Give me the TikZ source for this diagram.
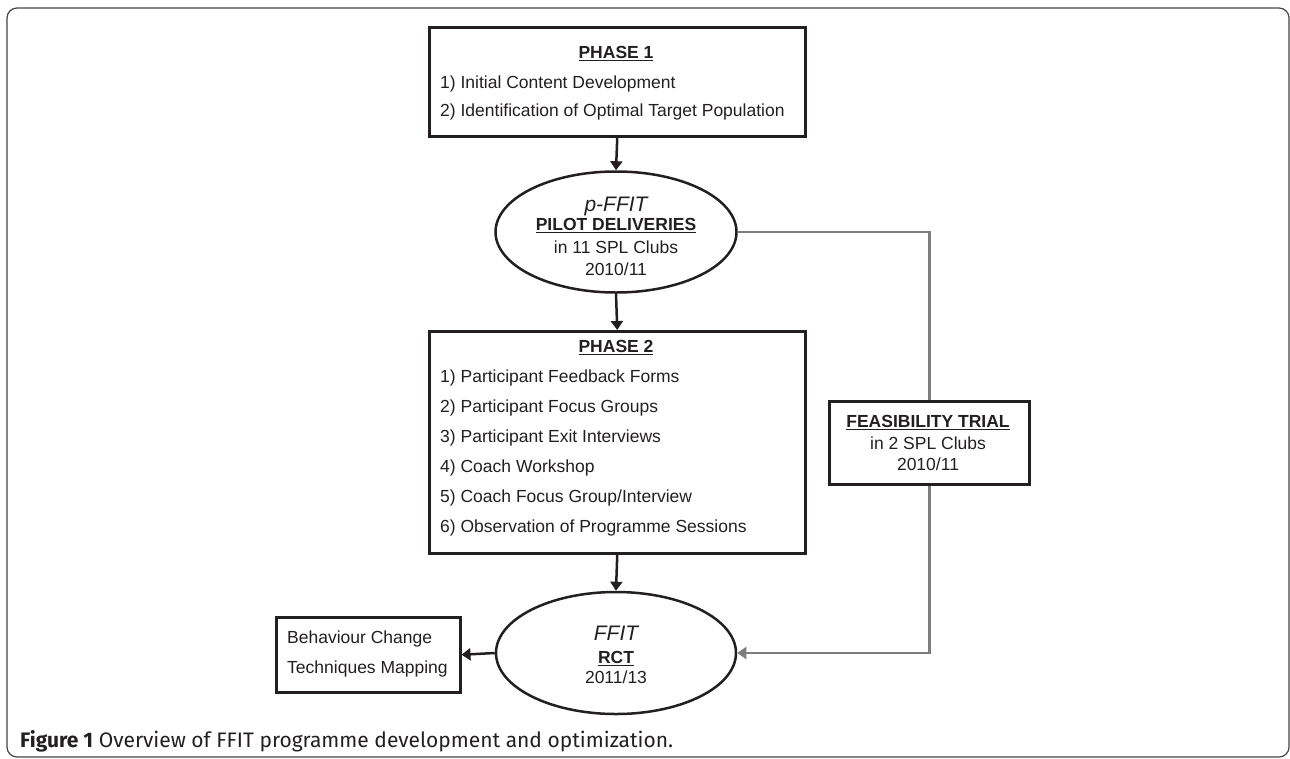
\documentclass[tikz,border=0pt]{standalone}
\usepackage{fontspec}
\setmainfont{Liberation Sans}
\newfontfamily\capfont{Fira Sans}
\usetikzlibrary{shapes.geometric,arrows.meta}
\definecolor{ink}{HTML}{231F20}
\definecolor{lgray}{HTML}{7D7D7D}
\definecolor{frame}{HTML}{444444}
\newcommand\myul[1]{\setbox0\hbox{#1}\rlap{\rule[-3.2pt]{\wd0}{1.5pt}}\box0}
\begin{document}
\begin{tikzpicture}[x=1pt,y=-1pt,
  box/.style={draw=ink,line width=2.5pt,rectangle,inner sep=0pt,anchor=north west},
  oval/.style={draw=ink,line width=2.5pt,ellipse,inner sep=0pt},
  txt/.style={font=\fontsize{17.5}{20}\selectfont,text=ink,inner sep=0pt,anchor=base west},
  ctxt/.style={txt,anchor=base},
  ititle/.style={ctxt,font=\fontsize{21}{23}\selectfont\itshape},
  arr/.style={draw=ink,line width=2.5pt,-{Triangle[length=9pt,width=12pt]}},
  garr/.style={draw=lgray,line width=2.5pt},
  gtip/.style={-{Triangle[length=9pt,width=12pt]}}]
\useasboundingbox (0,0) rectangle (1290,758);
\draw[frame,line width=1.2pt,rounded corners=10pt] (7,8) rectangle (1289,757);

% Phase 1
\node[box,minimum width=376pt,minimum height=109pt] (p1) at (428,26) {};
\node[ctxt] (p1t) at (616,58) {\textbf{\myul{PHASE 1}}};
\node[txt] (p1a) at (440,88) {1) Initial Content Development};
\node[txt] (p1b) at (440,116) {2) Identification of Optimal Target Population};

% Pilot ellipse
\node[oval,minimum width=241pt,minimum height=121pt] (pilot) at (616,232) {};
\node[ititle] (pilt) at (616,211) {p-FFIT};
\node[ctxt] (pil1) at (616,230) {\textbf{\myul{PILOT DELIVERIES}}};
\node[ctxt] (pil2) at (616,253) {in 11 SPL Clubs};
\node[ctxt] (pil3) at (616,275) {2010/11};

% Phase 2
\node[box,minimum width=376pt,minimum height=222pt] (p2) at (428,330) {};
\node[ctxt] (p2t) at (616,352) {\textbf{\myul{PHASE 2}}};
\node[txt] (p2a) at (440,382) {1) Participant Feedback Forms};
\node[txt] (p2b) at (440,412) {2) Participant Focus Groups};
\node[txt] (p2c) at (440,442) {3) Participant Exit Interviews};
\node[txt] (p2d) at (440,472) {4) Coach Workshop};
\node[txt] (p2e) at (440,502) {5) Coach Focus Group/Interview};
\node[txt] (p2f) at (440,532) {6) Observation of Programme Sessions};

% Feasibility
\node[box,minimum width=200pt,minimum height=83pt] (feas) at (828,400) {};
\node[ctxt] (fe1) at (928,427) {\textbf{\myul{FEASIBILITY TRIAL}}};
\node[ctxt] (fe2) at (928,449) {in 2 SPL Clubs};
\node[ctxt] (fe3) at (928,470) {2010/11};

% RCT ellipse
\node[oval,minimum width=240pt,minimum height=122pt] (rct) at (616,653) {};
\node[ititle] (rctt) at (616,640) {FFIT};
\node[ctxt] (rct1) at (616,663) {\textbf{\myul{RCT}}};
\node[ctxt] (rct2) at (616,683) {2011/13};

% Behaviour box
\node[box,minimum width=184pt,minimum height=75pt] (bct) at (275,616) {};
\node[txt] (bc1) at (287,643) {Behaviour Change};
\node[txt] (bc2) at (287,673) {Techniques Mapping};

% connectors
\draw[arr] (p1.south) -- (pilot.north);
\draw[arr] (pilot.south) -- (p2.north);
\draw[arr] (p2.south) -- (rct.north);
\draw[arr] (rct.west) -- (bct.east);
\draw[garr] (pilot.east) -- (pilot.east -| feas.north) -- (feas.north);
\draw[garr,gtip] (feas.south) -- (feas.south |- rct.east) -- (rct.east);

% caption
\node[anchor=base west,inner sep=0pt,text=ink,font=\capfont\fontsize{21}{23}\selectfont] (cap) at (20,747) {\textbf{Figure 1} Overview of FFIT programme development and optimization.};
\end{tikzpicture}
\end{document}
